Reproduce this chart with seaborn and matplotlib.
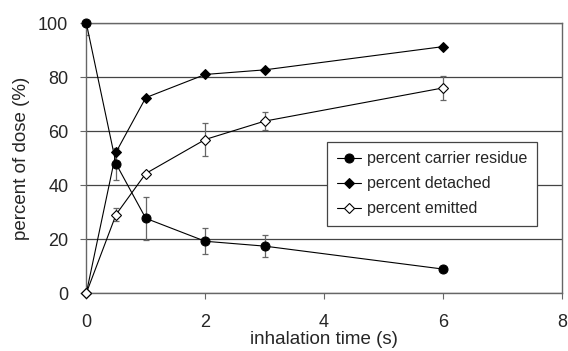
import numpy as np
import pandas as pd
import seaborn as sns
from matplotlib import pyplot as plt

sns.set_style('white')
plt.rcParams['font.family'] = ['Liberation Sans', 'DejaVu Sans']

# inhalation time (s)
time = [0, 0.5, 1, 2, 3, 6]

# percent of dose
residue = [100, 47.9, 27.7, 19.2, 17.4, 8.9]
residue_err = [4.2, 6.0, 8.0, 4.8, 4.2, 0]
detached = [0, 52.2, 72.4, 81.0, 82.7, 91.3]
emitted = [0, 29.1, 44.3, 56.9, 63.7, 76.0]
emitted_err = [0, 2.5, 0, 6.2, 3.3, 4.5]

df = pd.DataFrame({'time': time, 'residue': residue, 'detached': detached, 'emitted': emitted})

fig, ax = plt.subplots(figsize=(5.68, 3.51), dpi=100)
fig.subplots_adjust(left=0.152, right=0.989, top=0.934, bottom=0.165)

# error bars (gray, with small caps), clipped to the plot area
ax.errorbar(time, residue, yerr=residue_err, fmt='none', ecolor='#666666',
            elinewidth=0.9, capsize=2.2, capthick=0.9, zorder=2)
ax.errorbar(time, emitted, yerr=emitted_err, fmt='none', ecolor='#666666',
            elinewidth=0.9, capsize=2.2, capthick=0.9, zorder=2)
n_err = len(ax.lines)

sns.lineplot(data=df, x='time', y='residue', ax=ax, color='black', lw=0.8,
             marker='o', markersize=6.5, markeredgecolor='black', markerfacecolor='black',
             label='percent carrier residue', zorder=3)
sns.lineplot(data=df, x='time', y='detached', ax=ax, color='black', lw=0.8,
             marker='D', markersize=5, markeredgecolor='black', markerfacecolor='black',
             label='percent detached', zorder=3)
sns.lineplot(data=df, x='time', y='emitted', ax=ax, color='black', lw=0.8,
             marker='D', markersize=5.5, markeredgecolor='black', markerfacecolor='white',
             markeredgewidth=0.8, label='percent emitted', zorder=4)

ax.set_xlim(0, 8)
ax.set_ylim(0, 100)
ax.set_xticks([0, 2, 4, 6, 8])
ax.set_yticks([0, 20, 40, 60, 80, 100])
ax.set_xticklabels(['0', '2', '4', '6', '8'])
ax.set_yticklabels(['0', '20', '40', '60', '80', '100'])
ax.yaxis.grid(True, color='#444444', lw=0.9)
ax.set_axisbelow(True)
ax.tick_params(axis='x', direction='out', length=4, width=0.8, color='#666666', pad=11, labelsize=13)
ax.tick_params(axis='y', direction='out', length=4, width=0.8, color='#666666', pad=9, labelsize=13)
ax.tick_params(bottom=True, left=True)
for s in ['left', 'bottom', 'right', 'top']:
    ax.spines[s].set_color('#666666')
    ax.spines[s].set_linewidth(1.0)
for a in ax.lines[n_err:]:
    a.set_clip_on(False)

ax.set_xlabel('inhalation time (s)', fontsize=13.5, labelpad=0)
ax.set_ylabel('percent of dose (%)', fontsize=13.5, labelpad=6)

leg = ax.legend(loc='upper left', bbox_to_anchor=(0.49, 0.59), fontsize=11.5,
                frameon=True, fancybox=False, framealpha=1, edgecolor='#444444',
                handlelength=1.5, handletextpad=0.4, borderpad=0.6, labelspacing=0.62)
leg.get_frame().set_linewidth(0.9)

fig.savefig('out.png', dpi=100)
